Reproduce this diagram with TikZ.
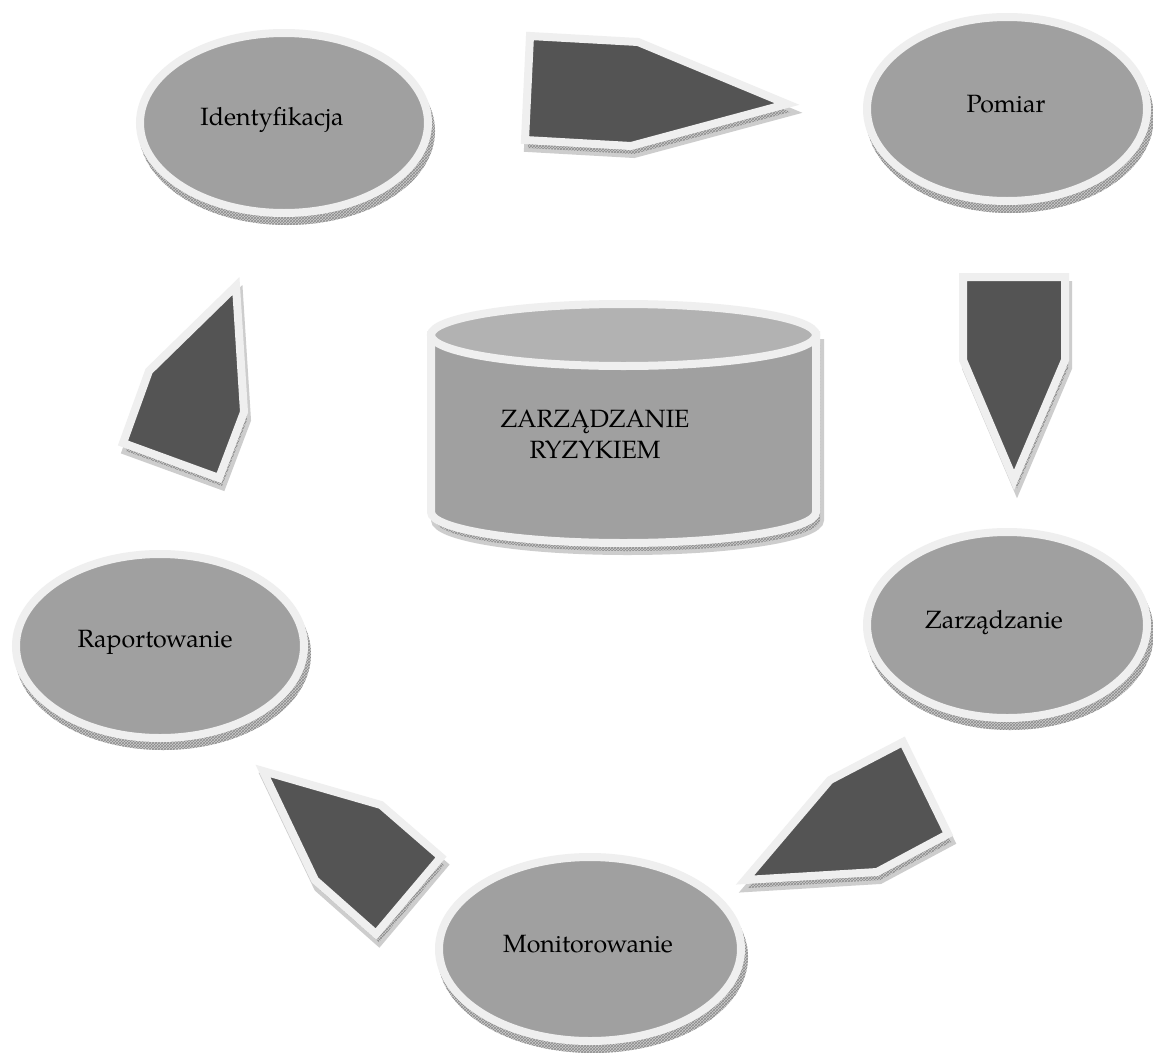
\documentclass[tikz,border=0pt]{standalone}
\usepackage{fontspec}
\setmainfont{TeX Gyre Pagella}
\usetikzlibrary{shapes.geometric,patterns}
\definecolor{rimc}{HTML}{EFEFEF}
\definecolor{ellfill}{HTML}{A0A0A0}
\definecolor{darkc}{HTML}{545454}
\definecolor{cyltop}{HTML}{B2B2B2}
\definecolor{shadc}{HTML}{CDCDCD}
\definecolor{shadl}{HTML}{8C8C8C}
\begin{document}
\begin{tikzpicture}[x=1pt,y=-1pt,
  stage/.style={ellipse, draw=rimc, line width=8pt, fill=ellfill, inner sep=0pt},
  shade3d/.style={fill=shadc, postaction={pattern=crosshatch, pattern color=shadl}},
  shadeedge/.style={draw=shadc, line width=8pt, line join=miter, miter limit=10},
  blockarrow/.style={fill=darkc, draw=rimc, line width=8pt, line join=miter, miter limit=10},
  lbl/.style={font=\fontsize{25}{31}\selectfont, anchor=base, inner sep=0pt, align=center}]
\useasboundingbox[fill=white] (0,0) rectangle (1153,1052);

% 3D extrusions of the ellipses
\path[shade3d] (287,131) ellipse [x radius=148, y radius=94];
\path[shade3d] (1010,117) ellipse [x radius=144, y radius=96];
\path[shade3d] (1010,633) ellipse [x radius=144, y radius=97];
\path[shade3d] (163,654) ellipse [x radius=148, y radius=96];
\path[shade3d] (593,957) ellipse [x radius=155, y radius=96];

% ellipses
\node[stage, minimum width=288pt, minimum height=180pt] (ident) at (284,123) {};
\node[stage, minimum width=280pt, minimum height=184pt] (pomiar) at (1007,109) {};
\node[stage, minimum width=280pt, minimum height=186pt] (zarz) at (1007,625) {};
\node[stage, minimum width=288pt, minimum height=184pt] (rap) at (160,646) {};
\node[stage, minimum width=302pt, minimum height=184pt] (monit) at (590,949) {};

\node[lbl] (t-ident) at (272,125) {Identyfikacja};
\node[lbl] (t-pomiar) at (1006,112) {Pomiar};
\node[lbl] (t-zarz) at (994,628) {Zarządzanie};
\node[lbl] (t-rap) at (155,647) {Raportowanie};
\node[lbl] (t-monit) at (588,952) {Monitorowanie};

% block arrows: extrusions
\begin{scope}[shift={(3,8)}]
\path[shade3d, shadeedge] (530,36)--(638,42)--(787,104)--(631,146)--(525,140)--cycle;
\path[shade3d, shadeedge] (963,277)--(1065,277)--(1065,360)--(1014,480)--(963,360)--cycle;
\path[shade3d, shadeedge] (903,742)--(948,834)--(877,872)--(745,880)--(830,780)--cycle;
\path[shade3d, shadeedge] (263,771)--(381,805)--(441,857)--(376,934)--(315,880)--cycle;
\path[shade3d, shadeedge] (236,286)--(244,412)--(219,478)--(123,443)--(149,371)--cycle;
\end{scope}
% block arrows
\draw[blockarrow] (530,36)--(638,42)--(787,104)--(631,146)--(525,140)--cycle;
\draw[blockarrow] (963,277)--(1065,277)--(1065,360)--(1014,480)--(963,360)--cycle;
\draw[blockarrow] (903,742)--(948,834)--(877,872)--(745,880)--(830,780)--cycle;
\draw[blockarrow] (263,771)--(381,805)--(441,857)--(376,934)--(315,880)--cycle;
\draw[blockarrow] (236,286)--(244,412)--(219,478)--(123,443)--(149,371)--cycle;

% cylinder
\path[shade3d, shadeedge, shift={(4,8)}] (431,335) -- (431,512) .. controls (431,529.1) and (517.2,543) .. (623.5,543) .. controls (729.8,543) and (816,529.1) .. (816,512) -- (816,335) -- cycle;
\draw[fill=ellfill, draw=rimc, line width=8pt] (431,335) -- (431,512) .. controls (431,529.1) and (517.2,543) .. (623.5,543) .. controls (729.8,543) and (816,529.1) .. (816,512) -- (816,335) -- cycle;
\draw[fill=cyltop, draw=rimc, line width=8pt] (623.5,335) ellipse [x radius=192.5, y radius=31];
\node[lbl] (cyl) at (595,458) {ZARZĄDZANIE\\RYZYKIEM};
\end{tikzpicture}
\end{document}
